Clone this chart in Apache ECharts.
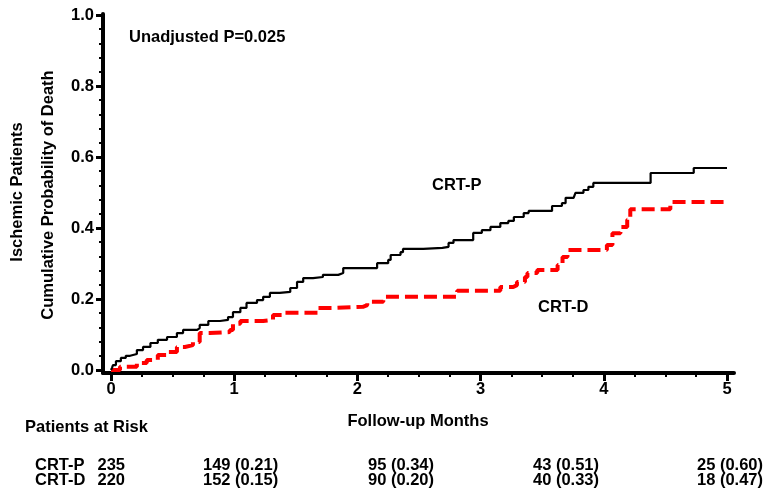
<!DOCTYPE html>
<html><head><meta charset="utf-8">
<script src="https://cdn.jsdelivr.net/npm/echarts@6/dist/echarts.min.js"></script>
<style>html,body{margin:0;padding:0;background:#fff}#c{width:765px;height:494px}</style>
</head><body><div id="c"></div>
<script>
// ---- data ----
const crtPTimes  = [0, 0.008, 0.016, 0.04, 0.08, 0.12, 0.155, 0.21, 0.26, 0.32, 0.38, 0.455, 0.535, 0.585, 0.70, 0.72, 0.79, 0.885, 0.95, 0.99, 1.05, 1.10, 1.185, 1.235, 1.29, 1.37, 1.455, 1.51, 1.56, 1.64, 1.72, 1.845, 1.885, 2.16, 2.25, 2.27, 2.35, 2.37, 2.535, 2.69, 2.74, 2.78, 2.94, 3.01, 3.08, 3.16, 3.225, 3.27, 3.35, 3.39, 3.58, 3.66, 3.69, 3.755, 3.77, 3.835, 3.875, 3.915, 4.38, 4.73, 5.0];
const crtPValues = [0, 0.006, 0.014, 0.025, 0.034, 0.040, 0.045, 0.056, 0.065, 0.076, 0.085, 0.093, 0.104, 0.113, 0.118, 0.127, 0.138, 0.141, 0.149, 0.163, 0.175, 0.189, 0.197, 0.206, 0.217, 0.220, 0.231, 0.248, 0.259, 0.262, 0.268, 0.273, 0.287, 0.301, 0.310, 0.324, 0.332, 0.341, 0.344, 0.347, 0.358, 0.366, 0.386, 0.394, 0.403, 0.414, 0.420, 0.431, 0.442, 0.448, 0.462, 0.470, 0.485, 0.487, 0.499, 0.507, 0.516, 0.527, 0.555, 0.569, 0.569];
const crtDTimes  = [0, 0.073, 0.21, 0.29, 0.38, 0.455, 0.535, 0.60, 0.665, 0.72, 0.80, 0.965, 0.99, 1.05, 1.235, 1.315, 1.39, 1.68, 1.80, 2.045, 2.08, 2.21, 2.81, 3.16, 3.265, 3.295, 3.36, 3.38, 3.46, 3.625, 3.665, 3.705, 4.025, 4.07, 4.135, 4.19, 4.215, 4.54, 5.0];
const crtDValues = [0, 0.009, 0.020, 0.028, 0.042, 0.051, 0.065, 0.070, 0.079, 0.104, 0.107, 0.113, 0.130, 0.138, 0.141, 0.155, 0.161, 0.175, 0.178, 0.183, 0.192, 0.206, 0.223, 0.234, 0.239, 0.248, 0.262, 0.273, 0.282, 0.296, 0.318, 0.338, 0.352, 0.385, 0.403, 0.423, 0.453, 0.473, 0.473];

const xTickLabels = ['0', '1', '2', '3', '4', '5'];
const yTickLabels = ['0.0', '0.2', '0.4', '0.6', '0.8', '1.0'];

const riskGroups   = ['CRT-P', 'CRT-D'];
const riskCounts   = [[235, 149, 95, 43, 25], [220, 152, 90, 40, 18]];
const riskProbs    = [[null, 0.21, 0.34, 0.51, 0.60], [null, 0.15, 0.20, 0.33, 0.47]];

const pText = 'Unadjusted P=0.025';
const yTitles = ['Ischemic Patients', 'Cumulative Probability of Death'];
const xTitle = 'Follow-up Months';

// ---- chart ----
const FONT = "'Liberation Sans', Arial, sans-serif";
const FS = 16.5;
const zip = (a, b) => a.map((v, i) => [v, b[i]]);
const chart = echarts.init(document.getElementById('c'));
const txt = (extra) => Object.assign({fill: '#000', font: 'bold ' + FS + 'px ' + FONT}, extra);

const graphics = [
  {type: 'text', left: 129, top: 29, style: txt({text: pText})},
  {type: 'text', x: 17, y: 192, rotation: Math.PI / 2, style: txt({text: yTitles[0], align: 'center', verticalAlign: 'middle'})},
  {type: 'text', x: 48, y: 195, rotation: Math.PI / 2, style: txt({text: yTitles[1], align: 'center', verticalAlign: 'middle'})},
  {type: 'text', x: 418, y: 421, style: txt({text: xTitle, align: 'center', verticalAlign: 'middle'})},
  {type: 'text', x: 25, y: 427, style: txt({text: 'Patients at Risk', verticalAlign: 'middle'})},
  {type: 'text', x: 432, y: 185, style: txt({text: 'CRT-P', verticalAlign: 'middle'})},
  {type: 'text', x: 538, y: 307, style: txt({text: 'CRT-D', verticalAlign: 'middle'})}
];
const colX = [null, 203, 368, 533, 697];
const rowY = [465, 480];
riskGroups.forEach((g, r) => {
  graphics.push({type: 'text', x: 35, y: rowY[r], style: txt({text: g, verticalAlign: 'middle'})});
  graphics.push({type: 'text', x: 125, y: rowY[r], style: txt({text: String(riskCounts[r][0]), align: 'right', verticalAlign: 'middle'})});
  for (let c = 1; c < 5; c++) {
    graphics.push({type: 'text', x: colX[c], y: rowY[r], style: txt({text: riskCounts[r][c] + ' (' + riskProbs[r][c].toFixed(2) + ')', verticalAlign: 'middle'})});
  }
});

const axisFont = {fontSize: FS, fontWeight: 'bold', color: '#000', fontFamily: FONT};

chart.setOption({
  animation: false,
  grid: [
    // frame grid: carries the long axis lines only
    {left: 103, right: 31, top: 14, bottom: 121},
    // data grid
    {left: 111, right: 38, top: 15, bottom: 124}
  ],
  xAxis: [
    {gridIndex: 0, type: 'value', min: 0, max: 1,
     axisLine: {show: true, onZero: false, lineStyle: {color: '#000000', width: 4}},
     axisTick: {show: false}, axisLabel: {show: false}, splitLine: {show: false}},
    {gridIndex: 1, type: 'value', min: 0, max: 5, interval: 1, offset: 3,
     axisLine: {show: false, onZero: false},
     axisTick: {show: true, length: 8, lineStyle: {color: '#000000', width: 3}},
     minorTick: {show: true, splitNumber: 4, length: 4, lineStyle: {color: '#000000', width: 2}},
     axisLabel: Object.assign({margin: 8, formatter: (v) => xTickLabels[Math.round(v)]}, axisFont),
     splitLine: {show: false}}
  ],
  yAxis: [
    {gridIndex: 0, type: 'value', min: 0, max: 1,
     axisLine: {show: true, onZero: false, lineStyle: {color: '#000000', width: 4}},
     axisTick: {show: false}, axisLabel: {show: false}, splitLine: {show: false}},
    {gridIndex: 1, type: 'value', min: 0, max: 1, interval: 0.2, offset: 8,
     axisLine: {show: false, onZero: false},
     axisTick: {show: true, length: 7, lineStyle: {color: '#000000', width: 3}},
     minorTick: {show: true, splitNumber: 5, length: 4, lineStyle: {color: '#000000', width: 2}},
     axisLabel: Object.assign({margin: 9, formatter: (v) => yTickLabels[Math.round(v * 5)]}, axisFont),
     splitLine: {show: false}}
  ],
  series: [
    {name: 'CRT-P', type: 'line', step: 'end', xAxisIndex: 1, yAxisIndex: 1, showSymbol: false,
     data: zip(crtPTimes, crtPValues), lineStyle: {color: '#000', width: 2.2}, z: 3},
    {name: 'CRT-D', type: 'line', step: 'end', xAxisIndex: 1, yAxisIndex: 1, showSymbol: false,
     data: zip(crtDTimes, crtDValues), lineStyle: {color: '#ff0000', width: 4, type: [13, 6]}, z: 2}
  ],
  graphic: graphics
});
</script></body></html>
